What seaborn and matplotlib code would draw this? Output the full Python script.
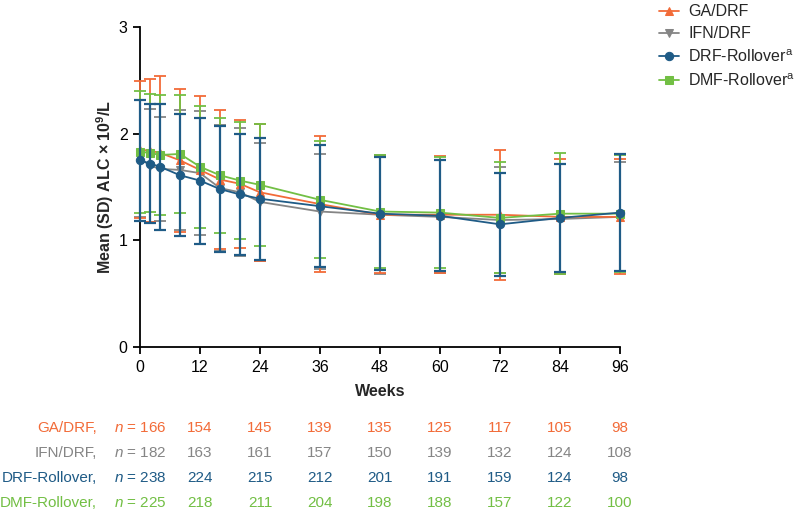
import pandas as pd
import matplotlib.pyplot as plt
import matplotlib.transforms as mtransforms
import seaborn as sns

# =============================================================================
# Data
# =============================================================================
weeks = [0, 2, 4, 8, 12, 16, 20, 24, 36, 48, 60, 72, 84, 96]

ga_mean = [1.85, 1.84, 1.82, 1.75, 1.66, 1.57, 1.53, 1.45, 1.34, 1.24, 1.24, 1.24, 1.22, 1.22]
ga_sd = [0.64, 0.67, 0.72, 0.67, 0.69, 0.65, 0.60, 0.64, 0.64, 0.55, 0.55, 0.61, 0.54, 0.54]

ifn_mean = [1.77, 1.70, 1.67, 1.66, 1.63, 1.49, 1.45, 1.36, 1.27, 1.24, 1.22, 1.19, 1.20, 1.22]
ifn_sd = [0.55, 0.53, 0.49, 0.56, 0.58, 0.59, 0.60, 0.55, 0.54, 0.56, 0.53, 0.50, 0.52, 0.51]

drf_mean = [1.75, 1.72, 1.69, 1.61, 1.56, 1.48, 1.43, 1.39, 1.32, 1.25, 1.23, 1.15, 1.21, 1.26]
drf_sd = [0.57, 0.56, 0.59, 0.57, 0.59, 0.59, 0.57, 0.57, 0.57, 0.53, 0.52, 0.48, 0.51, 0.55]

dmf_mean = [1.83, 1.82, 1.80, 1.81, 1.69, 1.61, 1.56, 1.52, 1.38, 1.27, 1.26, 1.21, 1.25, 1.25]
dmf_sd = [0.57, 0.55, 0.56, 0.55, 0.57, 0.54, 0.55, 0.57, 0.55, 0.53, 0.52, 0.52, 0.57, 0.55]

n_weeks = [0, 12, 24, 36, 48, 60, 72, 84, 96]
ga_n = [166, 154, 145, 139, 135, 125, 117, 105, 98]
ifn_n = [182, 163, 161, 157, 150, 139, 132, 124, 108]
drf_n = [238, 224, 215, 212, 201, 191, 159, 124, 98]
dmf_n = [225, 218, 211, 204, 198, 188, 157, 122, 100]

# =============================================================================
# Styling
# =============================================================================
sns.set_theme(style='ticks')
plt.rcParams['font.family'] = ['Liberation Sans', 'DejaVu Sans']
plt.rcParams['mathtext.fontset'] = 'custom'
plt.rcParams['mathtext.rm'] = 'Liberation Sans'
plt.rcParams['mathtext.it'] = 'Liberation Sans:italic'
plt.rcParams['mathtext.bf'] = 'Liberation Sans:bold'

orange = '#F26B38'
grey = '#858585'
blue = '#1F5B86'
green = '#72BF44'

groups = [
    # label, means, sds, color, marker, markersize, lw, zorder, table label, n
    ('GA/DRF', ga_mean, ga_sd, orange, '^', 5, 1.3, 3, 'GA/DRF,', ga_n),
    ('IFN/DRF', ifn_mean, ifn_sd, grey, 'v', 5, 1.3, 2, 'IFN/DRF,', ifn_n),
    ('DRF-Rollover$^{\\rm a}$', drf_mean, drf_sd, blue, 'o', 9, 1.6, 5, 'DRF-Rollover,', drf_n),
    ('DMF-Rollover$^{\\rm a}$', dmf_mean, dmf_sd, green, 's', 7, 1.3, 4, 'DMF-Rollover,', dmf_n),
]

fig = plt.figure(figsize=(7.97, 5.13), dpi=100)
ax = fig.add_axes([140 / 797, 1 - 347 / 513, 480 / 797, 320 / 513])

# =============================================================================
# Plot lines + SD error bars
# =============================================================================
for label, means, sds, color, marker, ms, lw, z, _, _ in groups:
    df = pd.DataFrame({'week': weeks, 'alc': means})
    ax.errorbar(df['week'], df['alc'], yerr=sds, fmt='none', ecolor=color,
                elinewidth=lw, capsize=4.5, capthick=lw, zorder=z, clip_on=False)
    sns.lineplot(data=df, x='week', y='alc', color=color, marker=marker,
                 markersize=ms, markeredgecolor=color, linewidth=1.5,
                 label=label, ax=ax, zorder=z + 0.5, clip_on=False)

ax.set_xlim(0, 96)
ax.set_ylim(0, 3)
ax.set_xticks(range(0, 97, 12))
ax.set_yticks([0, 1, 2, 3])
sns.despine(ax=ax)
for s in ['left', 'bottom']:
    ax.spines[s].set_linewidth(1.3)
    ax.spines[s].set_color('black')
ax.tick_params(axis='both', length=5, width=1.3, color='black', labelsize=11.5,
               labelcolor='black', pad=4)
ax.set_xlabel('Weeks', fontsize=11.5, fontweight='bold', labelpad=7)
ax.set_ylabel('Mean (SD) ALC × 10$^{\\mathbf{9}}$/L', fontsize=11.5, fontweight='bold',
              labelpad=2)

# legend outside, top right
handles, labels = ax.get_legend_handles_labels()
ax.legend_.remove()
for h in handles:
    h.set_markersize(6)
    h.set_linewidth(1.3)
fig.legend(handles, labels, loc='upper left', bbox_to_anchor=(645 / 797, 1.02),
           frameon=False, fontsize=11.5, handlelength=1.2, labelspacing=0.45,
           handletextpad=0.6)

# =============================================================================
# Number-at-risk table below the axes
# =============================================================================
trans = mtransforms.blended_transform_factory(ax.transData, fig.transFigure)
row_y = [428, 453, 478, 503]
for (label, _, _, color, _, _, _, _, tlabel, nvals), py in zip(groups, row_y):
    yf = 1 - py / 513
    fig.text(97 / 797, yf, tlabel, color=color, fontsize=11, ha='right', va='center')
    for wk, n in zip(n_weeks, nvals):
        txt = '$n$ = %d' % n if wk == 0 else str(n)
        ax.text(wk, yf, txt, transform=trans, color=color, fontsize=11,
                ha='center', va='center', clip_on=False)

plt.savefig('out.png', dpi=100)
